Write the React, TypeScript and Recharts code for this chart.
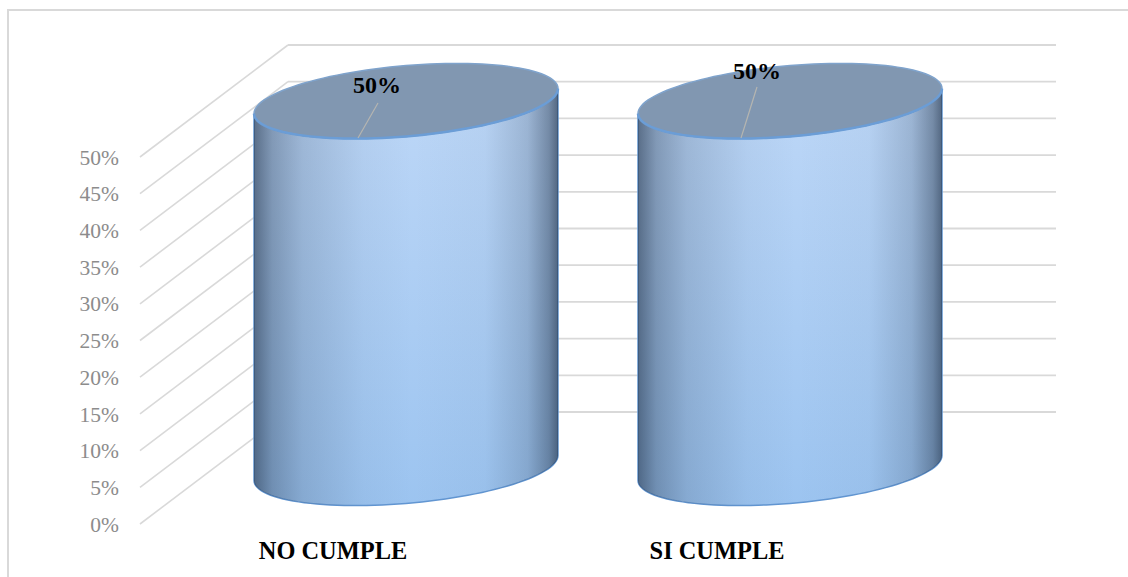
import { BarChart, Bar, XAxis, YAxis, CartesianGrid, LabelList } from 'recharts'

const categories = ['NO CUMPLE', 'SI CUMPLE']
const values = [50, 50]
const yTicks = [0, 5, 10, 15, 20, 25, 30, 35, 40, 45, 50]

const chartData = categories.map((name, i) => ({ name, value: values[i] }))

// 3d look: how far the back wall sits from the front plane
const DEPTH_X = 148
const DEPTH_Y = -112
const SERIF = '"Liberation Serif", "Times New Roman", serif'

// tilted ellipse, as a sheared circle
const TILT = 12.5
const MINOR = 35.4

function ellipsePath(cx: number, cy: number, rx: number, from: number, to: number, cmd: string) {
  let d = ''
  for (let i = 0; i <= 60; i++) {
    const t = from + ((to - from) * i) / 60
    const px = cx + rx * Math.cos(t)
    const py = cy - TILT * Math.cos(t) + MINOR * Math.sin(t)
    d += `${i === 0 ? cmd : 'L'}${px.toFixed(2)} ${py.toFixed(2)} `
  }
  return d
}

function Cylinder(props: any) {
  const { x, y, width, height } = props
  const rx = width / 2
  const cx = x + rx + DEPTH_X / 2
  const top = y + DEPTH_Y / 2
  const bottom = top + height
  const body =
    `M${cx - rx} ${top + TILT} ` +
    ellipsePath(cx, bottom, rx, Math.PI, 0, 'L') +
    ellipsePath(cx, top, rx, 0, Math.PI, 'L') +
    'Z'
  const cap = ellipsePath(cx, top, rx, 0, Math.PI * 2, 'M') + 'Z'
  return (
    <g>
      <path d={body} fill="url(#cylBase)" stroke="#6296d2" strokeWidth={1.5} />
      <path d={body} fill="url(#cylShade)" />
      <path d={cap} fill="#8197b1" />
      <path d={ellipsePath(cx, top, rx, Math.PI, Math.PI * 2, 'M')} fill="none" stroke="#7fa3cc" strokeWidth={1.5} />
      <path d={ellipsePath(cx, top, rx, 0, Math.PI, 'M')} fill="none" stroke="#6b9dd6" strokeWidth={2.5} />
    </g>
  )
}

// label spot inside each cap, and where its leader line starts and ends
const labelDx = [-29, -33]
const labelDy = [-14, -28]
const leaderStartDx = [-48, -49]
const leaderEndDx = [-28, -33]
const leaderEndDy = [2, -14]

function LeaderLabel(props: any) {
  const { x, y, width, value, index } = props
  const mx = x + width / 2 + DEPTH_X / 2
  const my = y + DEPTH_Y / 2
  return (
    <g>
      <line
        x1={mx + leaderStartDx[index]}
        y1={my + 37}
        x2={mx + leaderEndDx[index]}
        y2={my + leaderEndDy[index]}
        stroke="#b5b5b0"
        strokeWidth={1.2}
      />
      <text
        x={mx + labelDx[index]}
        y={my + labelDy[index]}
        textAnchor="middle"
        dominantBaseline="middle"
        fontFamily={SERIF}
        fontWeight="bold"
        fontSize={24}
        fill="#000"
      >
        {`${value}%`}
      </text>
    </g>
  )
}

function gridLine(props: any) {
  const { x1, y1, x2, y2, key } = props
  const bx = x1 + DEPTH_X
  const by = y1 + DEPTH_Y
  return (
    <g key={key}>
      <line x1={x1} y1={y1} x2={bx} y2={by} stroke="#d9d9d9" strokeWidth={1.6} />
      <line x1={bx} y1={by} x2={x2 + DEPTH_X} y2={y2 + DEPTH_Y} stroke="#d9d9d9" strokeWidth={1.8} />
    </g>
  )
}

export default function App() {
  return (
    <div style={{ position: 'absolute', left: 0, top: 0, width: 1128, height: 577, background: '#fff', overflow: 'hidden' }}>
      <div style={{ position: 'absolute', left: 7, top: 9, right: -4, bottom: -4, borderLeft: '2px solid #d9d9d9', borderTop: '2px solid #d9d9d9' }} />
      <div style={{ position: 'absolute', left: 0, top: 0 }}>
        <BarChart
          width={1128}
          height={577}
          data={chartData}
          margin={{ top: 157, right: 220, bottom: 0, left: 0 }}
          barSize={304}
        >
          <defs>
            <linearGradient id="cylBase" x1="0" y1="0" x2="0" y2="1">
              <stop offset="0%" stopColor="#bdd7f7" />
              <stop offset="100%" stopColor="#9cc4f0" />
            </linearGradient>
            <linearGradient id="cylShade" x1="0" y1="0" x2="1" y2="0">
              <stop offset="0%" stopColor="#1f2f45" stopOpacity={0.62} />
              <stop offset="6%" stopColor="#1f2f45" stopOpacity={0.36} />
              <stop offset="16%" stopColor="#1f2f45" stopOpacity={0.18} />
              <stop offset="36%" stopColor="#1f2f45" stopOpacity={0.04} />
              <stop offset="52%" stopColor="#1f2f45" stopOpacity={0} />
              <stop offset="76%" stopColor="#1f2f45" stopOpacity={0.03} />
              <stop offset="90%" stopColor="#1f2f45" stopOpacity={0.2} />
              <stop offset="97%" stopColor="#1f2f45" stopOpacity={0.45} />
              <stop offset="100%" stopColor="#1f2f45" stopOpacity={0.66} />
            </linearGradient>
          </defs>
          <CartesianGrid vertical={false} horizontal={gridLine} />
          <XAxis
            dataKey="name"
            interval={0}
            axisLine={false}
            tickLine={false}
            height={53}
            tickMargin={12}
            tick={{ fontFamily: SERIF, fontWeight: 'bold', fontSize: 24.4, fill: '#000', dx: 1 }}
          />
          <YAxis
            width={140}
            domain={[0, 50]}
            ticks={yTicks}
            axisLine={false}
            tickLine={false}
            tickMargin={21}
            tickSize={0}
            tickFormatter={(v: number) => `${v}%`}
            tick={{ fontFamily: SERIF, fontSize: 21.5, fill: '#8c8c8c' }}
          />
          <Bar dataKey="value" shape={Cylinder} isAnimationActive={false}>
            <LabelList dataKey="value" content={LeaderLabel} />
          </Bar>
        </BarChart>
      </div>
    </div>
  )
}
